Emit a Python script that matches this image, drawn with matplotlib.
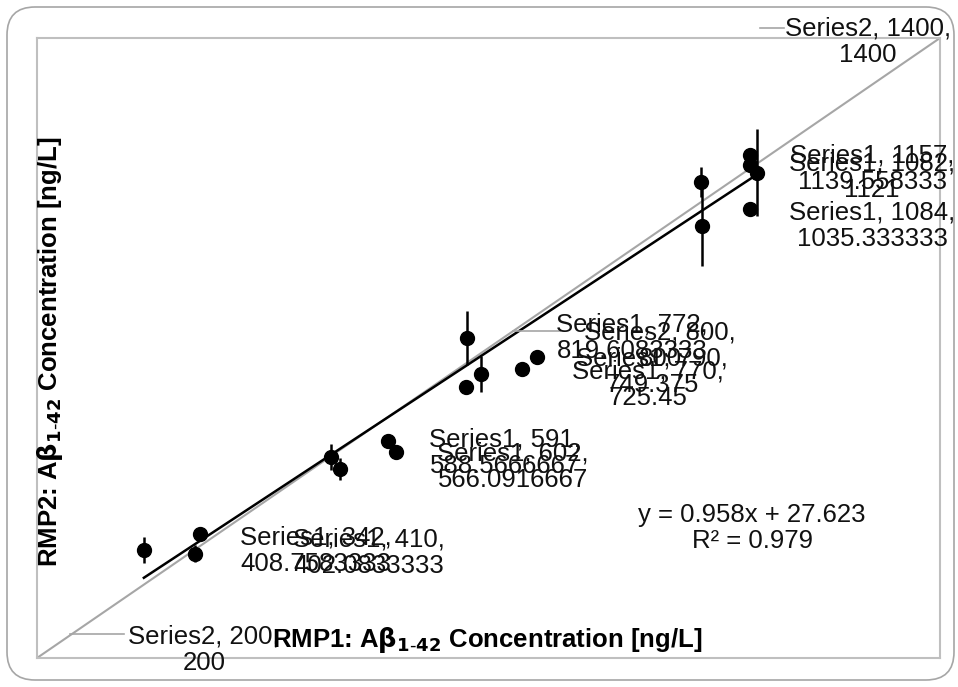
import matplotlib.pyplot as plt
from matplotlib.patches import FancyBboxPatch
from matplotlib.lines import Line2D
from matplotlib.transforms import IdentityTransform

plt.rcParams['font.family'] = ['Liberation Sans', 'DejaVu Sans']

# Series1: RMP1 vs RMP2 (ng/L) with error bars
rmp1 = [342, 410, 417, 591, 602, 666, 677, 772, 770, 790, 845, 865,
        1082, 1084, 1148, 1148, 1157, 1148]
rmp2 = [408.7583333, 402.0833333, 440, 588.5666667, 566.0916667, 620, 598,
        819.6083333, 725.45, 749.375, 759, 782,
        1121, 1035.333333, 1173, 1154, 1139.558333, 1069]
rmp2_err = [25, 17, 0, 25, 21, 0, 0, 52, 0, 35, 0, 0,
            29, 77, 0, 0, 84, 0]

# Series2: line of identity
ident_x = [200, 800, 1400]
ident_y = [200, 800, 1400]

# linear trendline
slope = 0.958
intercept = 27.623
r2 = 0.979

axis_min, axis_max = 200, 1400

data_labels = [
    "Series2, 1400,\n1400",
    "Series1, 1157,\n1139.558333",
    "Series1, 1082,\n1121",
    "Series1, 1084,\n1035.333333",
    "Series1, 772,\n819.6083333",
    "Series2, 800,\n800",
    "Series1, 790,\n749.375",
    "Series1, 770,\n725.45",
    "Series1, 591,\n588.5666667",
    "Series1, 602,\n566.0916667",
    "Series1, 342,\n408.7583333",
    "Series1, 410,\n402.0833333",
    "Series2, 200,\n200",
]
# label centres in image pixels (x from left, y from top)
label_pos = [(868, 42), (872, 169), (872, 177), (872, 226),
             (632, 338), (660, 346), (652, 372), (648, 385),
             (505, 453), (513, 467), (316, 551), (369, 553), (204, 650)]
# leader lines in image pixels
leaders = [((760, 28), (784, 28)), ((513, 331), (560, 331)), ((70, 634), (124, 634))]

W, H = 958, 687
fig = plt.figure(figsize=(W / 100, H / 100), dpi=100)
px = IdentityTransform()

# outer chart frame
fig.patches.append(FancyBboxPatch((7, 7), 947, 673, boxstyle="round,pad=0,rounding_size=28",
                                  transform=px, fill=False, ec='#A6A6A6', lw=1.2))

ax = fig.add_axes([37 / W, (H - 658) / H, 903 / W, 620 / H])
ax.set_xlim(axis_min, axis_max)
ax.set_ylim(axis_min, axis_max)
ax.set_xticks([])
ax.set_yticks([])
for s in ax.spines.values():
    s.set_color('#BFBFBF')
    s.set_linewidth(1.5)

ax.plot(ident_x, ident_y, color='#A6A6A6', lw=1.5, zorder=2)

tx = [min(rmp1), max(rmp1)]
ax.plot(tx, [slope * v + intercept for v in tx], color='black', lw=1.8, zorder=3)

ax.errorbar(rmp1, rmp2, yerr=rmp2_err, fmt='o', color='black', ms=10,
            elinewidth=1.8, capsize=0, zorder=4, clip_on=False)

for txt, (x, y) in zip(data_labels, label_pos):
    fig.text(x, H - y, txt, transform=px, ha='center', va='center',
             multialignment='center', fontsize=18.5, linespacing=1.15, color='#111111')

for (x0, y0), (x1, y1) in leaders:
    fig.add_artist(Line2D([x0, x1], [H - y0, H - y1], transform=px, color='#A6A6A6', lw=1.2))

fig.text(752, H - 528, f"y = {slope}x + {intercept}\nR² = {r2}", transform=px,
         ha='center', va='center', multialignment='center', fontsize=18.5,
         linespacing=1.15, color='#111111')

fig.text(487, H - 640, r"RMP1: A$\mathbf{\beta}_{\mathbf{1\text{-}42}}$ Concentration [ng/L]",
         transform=px, ha='center', va='center', fontsize=18.5, fontweight='bold')
fig.text(50, H - 352, r"RMP2: A$\mathbf{\beta}_{\mathbf{1\text{-}42}}$ Concentration [ng/L]",
         transform=px, ha='center', va='center', fontsize=18.5, fontweight='bold', rotation=90)

fig.savefig('out.png', dpi=100)
